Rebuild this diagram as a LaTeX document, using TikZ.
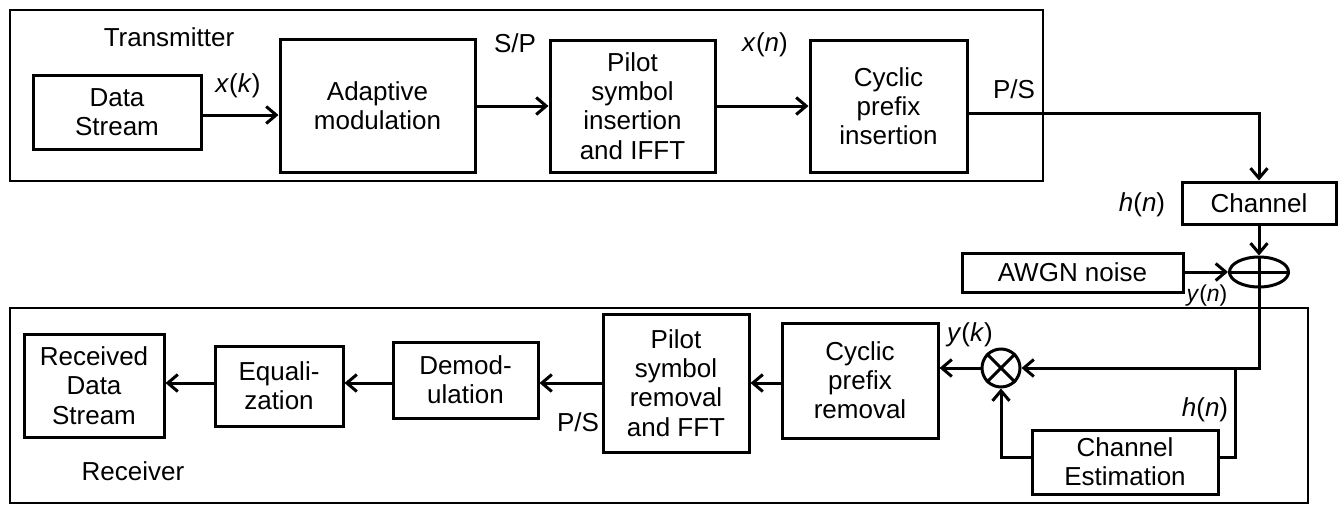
\documentclass[tikz,border=0pt]{standalone}
\usepackage{fontspec}
\setmainfont{Liberation Sans}
\usetikzlibrary{arrows.meta,shapes.geometric}
\begin{document}
\begin{tikzpicture}[x=0.5pt,y=-0.5pt,
  every node/.style={font=\fontsize{13}{14.6}\selectfont},
  blk/.style={draw, line width=1.5pt, align=center, inner sep=0pt},
  frame/.style={draw, line width=1.4pt},
  wire/.style={line width=1.5pt},
  arr/.style={wire, -{Straight Barb[length=5pt,width=8.5pt,line width=1.5pt]}},
  lbl/.style={inner sep=0pt, align=center},
  small/.style={font=\fontsize{11.5}{13}\selectfont}]
\useasboundingbox (0,0) rectangle (1338,504);

% transmitter and receiver frames
\draw[frame] (10,10) rectangle (1043,181);
\draw[frame] (10,308) rectangle (1308,503);

% transmitter blocks
\node[blk, minimum width=84pt, minimum height=37pt] (ds) at (117,112) {Data\\Stream};
\node[blk, minimum width=97.5pt, minimum height=66.5pt] (am) at (377.5,105.5) {Adaptive\\modulation};
\node[blk, minimum width=82.5pt, minimum height=66pt] (pi) at (632.5,106) {Pilot\\symbol\\insertion\\and IFFT};
\node[blk, minimum width=78.5pt, minimum height=66pt] (cpi) at (888.5,106) {Cyclic\\prefix\\insertion};

% channel and noise
\node[blk, minimum width=77pt, minimum height=21pt] (ch) at (1259,203) {Channel};
\node[blk, minimum width=110.5pt, minimum height=19.5pt] (awgn) at (1072.5,272.5) {AWGN noise};
\node[draw, ellipse, line width=1.5pt, inner sep=0pt, minimum width=29.5pt, minimum height=15pt] (sum) at (1259,272) {};

% receiver blocks
\node[draw, circle, line width=1.5pt, inner sep=0pt, minimum size=19pt] (mul) at (1001,368) {};
\node[blk, minimum width=93pt, minimum height=32pt] (ce) at (1125,462) {Channel\\Estimation};
\node[blk, minimum width=78pt, minimum height=57.5pt] (cpr) at (860,380.5) {Cyclic\\prefix\\removal};
\node[blk, minimum width=73pt, minimum height=69pt] (pr) at (676,383) {Pilot\\symbol\\removal\\and FFT};
\node[blk, minimum width=72.5pt, minimum height=38pt] (dm) at (465.5,380) {Demod-\\ulation};
\node[blk, minimum width=64pt, minimum height=40pt] (eq) at (279,386) {Equali-\\zation};
\node[blk, minimum width=70pt, minimum height=51.5pt] (rds) at (94,385.5) {Received\\Data\\Stream};

% multiplier cross and adder bar
\draw[wire] (mul.north west) -- (mul.south east) (mul.north east) -- (mul.south west);
\draw[wire] (sum.west) -- (sum.east);

% transmitter connections
\draw[arr] ([yshift=-1.5pt]ds.east) -- ([yshift=-1.5pt]ds.east -| am.west);
\draw[arr] (am.east |- pi.west) -- (pi.west);
\draw[arr] (pi.east) -- (cpi.west);
\draw[arr] ([yshift=-3.5pt]cpi.east) -| (ch.north);
\draw[arr] (ch.south) -- (sum.north);
\draw[arr] (awgn.east |- sum.west) -- (sum.west);

% receiver connections
\coordinate (br) at (1235,368);
\draw[wire] (sum.north) -- (sum.south);
\draw[arr] (sum.south) |- (mul.east);
\draw[wire] (br) |- ([yshift=2.5pt]ce.east);
\draw[arr] ([yshift=2.5pt]ce.west) -| (mul.south);
\draw[arr] (mul.west) -- (mul.west -| cpr.east);
\draw[arr] (cpr.west |- pr.east) -- (pr.east);
\draw[arr] (pr.west) -- (pr.west -| dm.east);
\draw[arr] (dm.west |- pr.west) -- (eq.east |- pr.west);
\draw[arr] (eq.west |- pr.west) -- (rds.east |- pr.west);

% labels
\node[lbl] (ttx) at (169,37) {Transmitter};
\node[lbl] (trx) at (133,471) {Receiver};
\node[lbl] (lxk) at (238,86) {\textit{x}(\textit{k})};
\node[lbl] (lsp) at (515,43) {S/P};
\node[lbl] (lxn) at (765,45) {\textit{x}(\textit{n})};
\node[lbl] (lps1) at (1014,89) {P/S};
\node[lbl] (lh1) at (1142,205) {\textit{h}(\textit{n})};
\node[lbl, small] (lyn) at (1207,296) {\textit{y}(\textit{n})};
\node[lbl] (lyk) at (970,335) {\textit{y}(\textit{k})};
\node[lbl] (lh2) at (1205,410) {\textit{h}(\textit{n})};
\node[lbl] (lps2) at (578,422) {P/S};
\end{tikzpicture}
\end{document}
